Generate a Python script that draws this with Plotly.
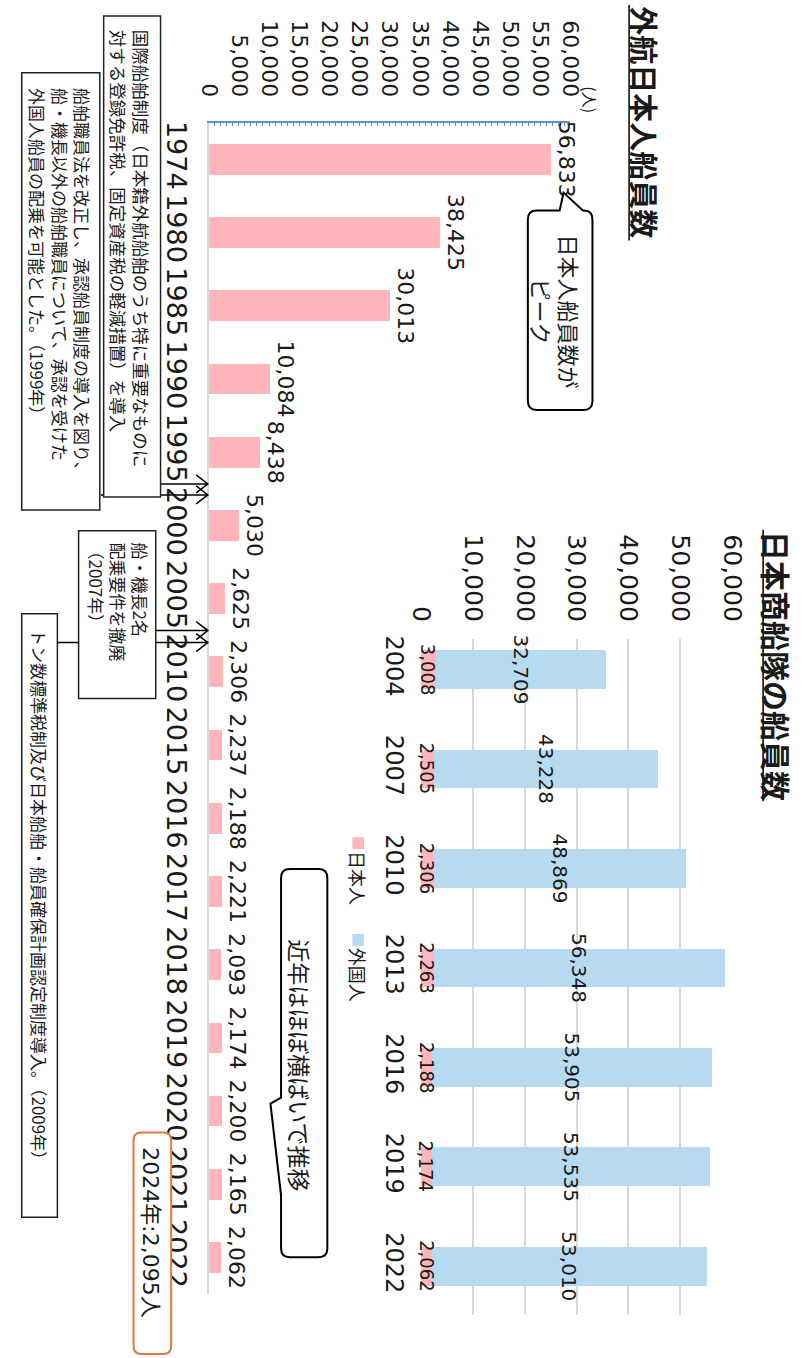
import plotly.graph_objects as go

W, H = 808, 1358

# 外航日本人船員数 (人)
years_crew = ["1974", "1980", "1985", "1990", "1995", "2000", "2005", "2010",
              "2015", "2016", "2017", "2018", "2019", "2020", "2021", "2022"]
crew_jp = [56833, 38425, 30013, 10084, 8438, 5030, 2625, 2306,
           2237, 2188, 2221, 2093, 2174, 2200, 2165, 2062]
crew_ticks = list(range(0, 60001, 5000))

# 日本商船隊の船員数 (人)
years_fleet = ["2004", "2007", "2010", "2013", "2016", "2019", "2022"]
fleet_jp = [3008, 2505, 2306, 2263, 2188, 2174, 2062]
fleet_foreign = [32709, 43228, 48869, 56348, 53905, 53535, 53010]
fleet_ticks = list(range(0, 60001, 10000))

PINK = "#FFB5B9"
BLUE = "#B7DAF1"
AXIS_BLUE = "#5B8FD6"
GRID = "#D9D9D9"
INK = "#1a1a1a"
NUM_FONT = "DejaVu Sans, Noto Sans CJK JP, sans-serif"
NARROW_FONT = "Liberation Sans Narrow, DejaVu Sans Condensed, sans-serif"
JP_FONT = "Noto Sans CJK JP, sans-serif"


def fx(x):
    return x / W


def fy(y):
    return 1 - y / H


def fmt(values):
    return [f"{v:,}" for v in values]


def pt(x, y):
    return f"{fx(x):.5f},{fy(y):.5f}"


def rounded_path(x0, y0, x1, y1, r, top_notch=None, left_notch=None):
    """Rounded rectangle in pixel space, optionally with a speech-bubble tail."""
    p = f"M{pt(x0 + r, y0)}"
    if top_notch:
        for (nx, ny) in top_notch:
            p += f" L{pt(nx, ny)}"
    p += f" L{pt(x1 - r, y0)} Q{pt(x1, y0)} {pt(x1, y0 + r)}"
    p += f" L{pt(x1, y1 - r)} Q{pt(x1, y1)} {pt(x1 - r, y1)}"
    p += f" L{pt(x0 + r, y1)} Q{pt(x0, y1)} {pt(x0, y1 - r)}"
    if left_notch:
        for (nx, ny) in left_notch:
            p += f" L{pt(nx, ny)}"
    p += f" L{pt(x0, y0 + r)} Q{pt(x0, y0)} {pt(x0 + r, y0)} Z"
    return p


fig = go.Figure()

# 外航日本人船員数
fig.add_trace(go.Bar(
    x=crew_jp, y=years_crew, orientation="h", xaxis="x", yaxis="y",
    width=0.42, marker=dict(color=PINK, line=dict(width=0)),
    text=fmt(crew_jp), textposition="outside", textangle=90,
    textfont=dict(family=NUM_FONT, size=22, color=INK),
    constraintext="none", cliponaxis=False, showlegend=False, hoverinfo="skip",
))

# 日本商船隊の船員数 (積み上げ)
fig.add_trace(go.Bar(
    name="日本人", x=fleet_jp, y=years_fleet, orientation="h", xaxis="x2", yaxis="y2",
    width=0.39, marker=dict(color=PINK, line=dict(width=0)),
    showlegend=False, hoverinfo="skip",
))
fig.add_trace(go.Bar(
    name="外国人", x=fleet_foreign, y=years_fleet, orientation="h", xaxis="x2", yaxis="y2",
    width=0.39, marker=dict(color=BLUE, line=dict(width=0)),
    text=fmt(fleet_foreign), textposition="inside", insidetextanchor="middle", textangle=90,
    textfont=dict(family=NUM_FONT, size=20, color=INK),
    constraintext="none", cliponaxis=False, showlegend=False, hoverinfo="skip",
))

shapes = []

# connector arrows from the note boxes to the year axis
for (x0, y) in [(90, 493), (152, 482), (45, 641), (147, 629)]:
    shapes.append(dict(type="line", xref="paper", yref="paper",
                       x0=fx(x0), y0=fy(y), x1=fx(201), y1=fy(y),
                       line=dict(color="black", width=1.5), layer="above"))
    shapes.append(dict(type="path", xref="paper", yref="paper",
                       path=f"M{pt(189, y - 9)} L{pt(201, y)} L{pt(189, y + 9)}",
                       line=dict(color="black", width=1.5), layer="above"))

# note boxes
for (x0, y0, x1, y1) in [(93, 13, 152, 495), (8, 70, 89, 508),
                         (67, 529, 147, 697), (8, 612, 45, 1217)]:
    shapes.append(dict(type="rect", xref="paper", yref="paper",
                       x0=fx(x0), y0=fy(y1), x1=fx(x1), y1=fy(y0),
                       fillcolor="white", line=dict(color="#222", width=1.5), layer="above"))

# speech bubbles
shapes.append(dict(type="path", xref="paper", yref="paper", layer="above",
                   path=rounded_path(533, 208, 600, 408, 9,
                                     top_notch=[(566, 208), (570, 190), (590, 208)]),
                   fillcolor="white", line=dict(color="black", width=2)))
shapes.append(dict(type="path", xref="paper", yref="paper", layer="above",
                   path=rounded_path(277, 868, 325, 1257, 9,
                                     left_notch=[(277, 1195), (266, 1103), (277, 1097)]),
                   fillcolor="white", line=dict(color="black", width=2)))

# 2024 note box
shapes.append(dict(type="path", xref="paper", yref="paper", layer="above",
                   path=rounded_path(124, 1132, 163, 1354, 8),
                   fillcolor="white", line=dict(color="#E07B39", width=2)))

# title underlines
shapes.append(dict(type="line", xref="paper", yref="paper", x0=fx(638), x1=fx(638),
                   y0=fy(2), y1=fy(238), line=dict(color="black", width=1.5)))
shapes.append(dict(type="line", xref="paper", yref="paper", x0=fx(777), x1=fx(777),
                   y0=fy(528), y1=fy(800), line=dict(color="black", width=1.5)))

# legend swatches
shapes.append(dict(type="rect", xref="paper", yref="paper", x0=fx(351), x1=fx(363),
                   y0=fy(848), y1=fy(836), fillcolor=PINK, line=dict(width=0)))
shapes.append(dict(type="rect", xref="paper", yref="paper", x0=fx(351), x1=fx(363),
                   y0=fy(945), y1=fy(933), fillcolor=BLUE, line=dict(width=0)))


def vtext(x, y, text, size, family=JP_FONT, align="left"):
    return dict(x=fx(x), y=fy(y), xref="paper", yref="paper", text=text,
                showarrow=False, textangle=90, align=align,
                xanchor="center", yanchor="middle",
                font=dict(family=family, size=size, color=INK))


annotations = [
    vtext(655, 120, "<b>外航日本人船員数</b>", 29),
    vtext(792, 664, "<b>日本商船隊の船員数</b>", 30),
    vtext(598, 97, "(人)", 16),
    vtext(120, 246, "国際船舶制度（日本籍外航船舶のうち特に重要なものに<br>"
                    "対する登録免許税、固定資産税の軽減措置）を導入", 17.5),
    vtext(48, 281, "船舶職員法を改正し、承認船員制度の導入を図り、<br>"
                   "船・機長以外の船舶職員について、承認を受けた<br>"
                   "外国人船員の配乗を可能とした。（1999年）", 17),
    vtext(108, 600, "船・機長2名<br>配乗要件を撤廃<br>（2007年）", 17),
    vtext(27, 897, "トン数標準税制及び日本船舶・船員確保計画認定制度導入。（2009年）", 17),
    vtext(562, 309, "日本人船員数が<br>ピーク", 22, align="center"),
    vtext(297, 1065, "近年はほぼ横ばいで推移", 23),
    vtext(142, 1232, "2024年:2,095人", 22, family=NUM_FONT),
    vtext(357, 877, "日本人", 18),
    vtext(357, 974, "外国人", 18),
]

# 日本人 value labels, centred on the pink segment of each stacked bar
for i, v in enumerate(fleet_jp):
    annotations.append(dict(
        x=v / 2, y=i, xref="x2", yref="y2", text=f"{v:,}", showarrow=False,
        textangle=90, xanchor="center", yanchor="middle",
        font=dict(family=NARROW_FONT, size=20, color=INK),
    ))

fig.update_layout(
    width=W, height=H, autosize=False,
    margin=dict(l=0, r=0, t=0, b=0, pad=0),
    paper_bgcolor="white", plot_bgcolor="rgba(0,0,0,0)",
    barmode="stack", showlegend=False,
    font=dict(family=NUM_FONT, color=INK),
    shapes=shapes, annotations=annotations,
    xaxis=dict(
        domain=[fx(202), fx(577)], range=[0, 60000], side="top", anchor="y",
        tickmode="array", tickvals=crew_ticks, ticktext=fmt(crew_ticks),
        tickangle=90, tickfont=dict(family=NUM_FONT, size=22, color=INK),
        showline=True, linecolor=AXIS_BLUE, linewidth=1.5,
        ticks="inside", ticklen=4, tickwidth=1, tickcolor=AXIS_BLUE,
        minor=dict(dtick=1000, tick0=0, ticks="inside", ticklen=4, tickwidth=1,
                   tickcolor=AXIS_BLUE, showgrid=False),
        showgrid=False, zeroline=False, fixedrange=True, ticklabelstandoff=16,
    ),
    yaxis=dict(
        domain=[fy(1294), fy(120)], type="category",
        categoryorder="array", categoryarray=years_crew, range=[15.5, -0.5],
        anchor="x", tickangle=90, tickfont=dict(family=NUM_FONT, size=27, color=INK),
        showline=True, linecolor=GRID, linewidth=1.5, ticks="",
        showgrid=False, zeroline=False, fixedrange=True, ticklabelstandoff=8,
    ),
    xaxis2=dict(
        domain=[fx(422), fx(745)], range=[0, 60000], side="top", anchor="y2",
        tickmode="array", tickvals=fleet_ticks, ticktext=fmt(fleet_ticks),
        tickangle=90, tickfont=dict(family=NUM_FONT, size=25, color=INK),
        showgrid=True, gridcolor=GRID, gridwidth=1.5, showline=False, ticks="",
        zeroline=False, fixedrange=True, ticklabelstandoff=12,
    ),
    yaxis2=dict(
        domain=[fy(1315), fy(637)], type="category",
        categoryorder="array", categoryarray=years_fleet, range=[6.49, -0.311],
        anchor="x2", tickangle=90, tickfont=dict(family=NUM_FONT, size=24, color=INK),
        showline=False, ticks="", showgrid=False, zeroline=False,
        fixedrange=True, ticklabelstandoff=10,
    ),
)

fig.write_html("out.html")
